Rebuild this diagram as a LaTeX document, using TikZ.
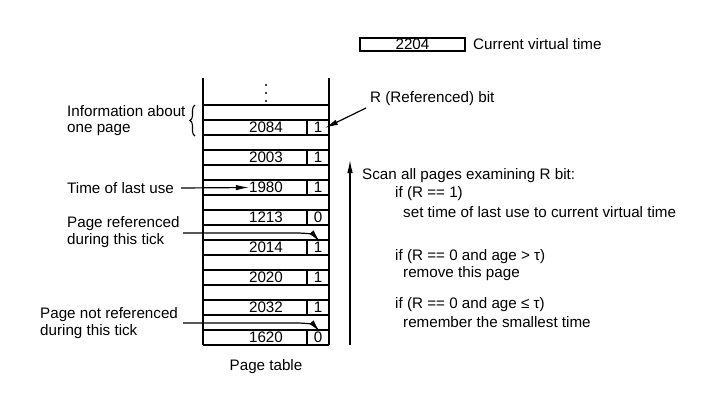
\documentclass[tikz,border=0pt]{standalone}
\usepackage{fontspec}
\setmainfont{Liberation Sans}
\usetikzlibrary{decorations.pathreplacing,arrows.meta}
\begin{document}
\begin{tikzpicture}[x=1pt,y=-1pt,
  font=\fontsize{15.2}{16.5}\selectfont,
  thinline/.style={line width=1.1pt},
  thickline/.style={line width=2.6pt},
  arr/.style={-{Latex[length=13pt,width=5.5pt]}, line width=1.2pt},
  lbl/.style={inner sep=0pt, anchor=west, align=left},
  cell/.style={inner sep=0pt}]
\useasboundingbox (0,0) rectangle (710,410);

% current virtual time
\node[draw, thinline, minimum width=105pt, minimum height=13pt, inner sep=0pt] (cvt) at (412.5,44.5) {2204};
\node[lbl] (cvtl) at (473,44.5) {Current virtual time};

% table outline
\draw[line width=1.3pt] (203,78) -- (203,345);
\draw[line width=1.3pt] (329,78) -- (329,345);
\foreach \y in {85,93,101} \fill (266,\y) circle (1.2pt);
\foreach \k in {0,...,7}{
  \pgfmathsetmacro{\T}{105+30*\k}
  \draw[thickline] (203,\T) -- (329,\T);
  \draw[thinline] (203,\T+15) -- (329,\T+15);
  \draw[thinline] (307,\T+15) -- (307,\T+30);
}
\draw[thinline] (203,345) -- (329,345);

% numbers and bits
\foreach \n/\v/\b [count=\k from 0] in {0/2084/1,1/2003/1,2/1980/1,3/1213/0,4/2014/1,5/2020/1,6/2032/1,7/1620/0}{
  \node[cell] (n\n) at (266,105+30*\k+22.5) {\v};
  \node[cell] (b\n) at (318,105+30*\k+22.5) {\b};
}

\node[anchor=north, inner sep=0pt] (pt) at (266,359) {Page table};

% left labels
\node[lbl] (info) at (67,120.5) {Information about\\one page};
\draw[thinline, decorate, decoration={brace, amplitude=5pt, mirror}] (195,105) -- (195,136);

\node[lbl] (tlu) at (67,188) {Time of last use};
\coordinate (tlus) at (181,188);
\draw[arr] (tlus) -- (n2.west);

\node[lbl] (pref) at (67,232) {Page referenced\\during this tick};
\coordinate (prs) at (183,233);
\coordinate (prt) at (320,242);
\draw[arr] (prs) -- (296,233) .. controls (308,233) and (314,235) .. (prt);

\node[lbl] (pnref) at (40,323) {Page not referenced\\during this tick};
\coordinate (pns) at (183,323);
\coordinate (pnt) at (320,332);
\draw[arr] (pns) -- (296,323) .. controls (308,323) and (314,325) .. (pnt);

% R bit
\node[lbl] (rbit) at (370,99) {R (Referenced) bit};
\coordinate (rs) at (366,108);
\coordinate (rtip) at (325,128);
\draw[arr] (rs) -- (rtip);

% scan arrow
\coordinate (sa) at (350,345);
\coordinate (sb) at (350,160);
\draw[arr] (sa) -- (sb);

\node[lbl] (s1) at (362,176) {Scan all pages examining R bit:};
\node[lbl] (s2) at (395,194) {if (R == 1)};
\node[lbl] (s3) at (403,212) {set time of last use to current virtual time};
\node[lbl] (s4) at (395,257) {if (R == 0 and age > τ)};
\node[lbl] (s5) at (403,274) {remove this page};
\node[lbl] (s6) at (395,305) {if (R == 0 and age ≤ τ)};
\node[lbl] (s7) at (403,322) {remember the smallest time};
\end{tikzpicture}
\end{document}
